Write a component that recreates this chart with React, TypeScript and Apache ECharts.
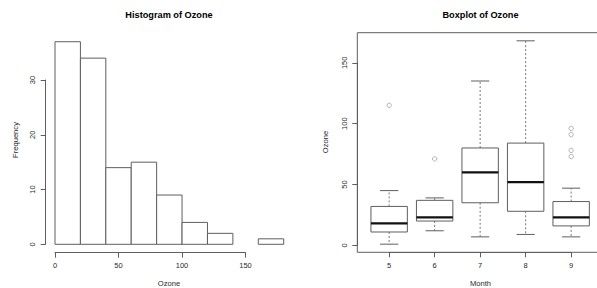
import React, { useEffect, useRef } from "react";
import * as echarts from "echarts";

// Histogram data
const breaks = [0, 20, 40, 60, 80, 100, 120, 140, 160, 180];
const counts = [37, 34, 14, 15, 9, 4, 2, 0, 1];

// Boxplot data (Ozone by Month)
const months = ["5", "6", "7", "8", "9"];
const whiskerLow = [1, 12, 7, 9, 7];
const lowerHinge = [11, 20, 35, 28, 16];
const medians = [18, 23, 60, 52, 23];
const upperHinge = [32, 37, 80, 84, 36];
const whiskerHigh = [45, 39, 135, 168, 47];
const outliers = [[115], [71], [], [], [96, 91, 78, 73]];

const FONT = "'Liberation Sans', Arial, Helvetica, sans-serif";
const LINE = "#5e5e5e";
const TEXT = "#2a2a2a";

export default function App() {
  const ref = useRef<HTMLDivElement>(null);
  useEffect(() => {
    if (!ref.current) return;
    const chart = echarts.init(ref.current, undefined, { renderer: "svg" });

    const histData = counts.map((c, i) => [breaks[i], breaks[i + 1], c]);
    const boxData = months.map((_, i) => [
      i + 1,
      whiskerLow[i],
      lowerHinge[i],
      medians[i],
      upperHinge[i],
      whiskerHigh[i],
    ]);
    const outData: number[][] = [];
    outliers.forEach((arr, i) => arr.forEach((v) => outData.push([i + 1, v])));

    const labelStyle = { fontSize: 7.5, color: TEXT, fontFamily: FONT };
    const lineStyle = { color: LINE, width: 1 };
    const hidden = (grid: number, min: number, max: number, type = "value") => ({
      gridIndex: grid,
      type,
      min,
      max,
      show: false,
    });

    const option: any = {
      animation: false,
      backgroundColor: "#fff",
      grid: [
        { left: 55, top: 25.3, width: 228.7, height: 219, outerBoundsMode: "none", containLabel: false },
        { left: 55, top: 242.7, width: 190.5, height: 10, outerBoundsMode: "none", containLabel: false },
        { left: 45.7, top: 80, width: 10, height: 164.3, outerBoundsMode: "none", containLabel: false },
        {
          left: 357.3, top: 32.7, width: 245.7, height: 219.6,
          show: true, borderColor: LINE, borderWidth: 1, backgroundColor: "transparent",
          outerBoundsMode: "none", containLabel: false,
        },
        { left: 357.3, top: 62.8, width: 10, height: 182.6, outerBoundsMode: "none", containLabel: false },
        { left: 389.15, top: 242, width: 182, height: 10.3, outerBoundsMode: "none", containLabel: false },
      ],
      xAxis: [
        hidden(0, 0, 180),
        {
          gridIndex: 1, type: "value", min: 0, max: 150, interval: 50,
          axisLine: { show: true, lineStyle },
          axisTick: { show: true, length: 5, lineStyle },
          axisLabel: { ...labelStyle, margin: 9 },
          splitLine: { show: false },
        },
        hidden(2, 0, 1),
        hidden(3, 0.3, 5.7),
        hidden(4, 0, 1),
        {
          gridIndex: 5, type: "category", data: months, boundaryGap: false,
          axisLine: { show: true, lineStyle },
          axisTick: { show: true, length: 5, lineStyle },
          axisLabel: { ...labelStyle, margin: 9 },
          splitLine: { show: false },
        },
      ],
      yAxis: [
        hidden(0, 0, 40),
        hidden(1, 0, 1),
        {
          gridIndex: 2, type: "value", min: 0, max: 30, interval: 10,
          axisLine: { show: true, lineStyle },
          axisTick: { show: true, length: 5, lineStyle },
          axisLabel: { ...labelStyle, margin: 9, rotate: 90 },
          splitLine: { show: false },
        },
        hidden(3, -5.68, 174.68),
        {
          gridIndex: 4, type: "value", min: 0, max: 150, interval: 50,
          axisLine: { show: true, lineStyle },
          axisTick: { show: true, length: 5, lineStyle },
          axisLabel: { ...labelStyle, margin: 9, rotate: 90 },
          splitLine: { show: false },
        },
        hidden(5, 0, 1),
      ],
      series: [
        {
          type: "custom",
          xAxisIndex: 0,
          yAxisIndex: 0,
          data: histData,
          encode: { x: [0, 1], y: 2 },
          renderItem: (params: any, api: any) => {
            const c = api.value(2);
            if (!c) return null;
            const tl = api.coord([api.value(0), c]);
            const br = api.coord([api.value(1), 0]);
            return {
              type: "rect",
              shape: { x: tl[0], y: tl[1], width: br[0] - tl[0], height: br[1] - tl[1] },
              style: { fill: "#fff", stroke: LINE, lineWidth: 1 },
            };
          },
        },
        {
          type: "custom",
          xAxisIndex: 3,
          yAxisIndex: 3,
          data: boxData,
          encode: { x: 0, y: [1, 2, 3, 4, 5] },
          renderItem: (params: any, api: any) => {
            const x = api.value(0);
            const lo = api.value(1);
            const q1 = api.value(2);
            const med = api.value(3);
            const q3 = api.value(4);
            const hi = api.value(5);
            const bw = 0.4;
            const cw = 0.2;
            const c = (xx: number, yy: number) => api.coord([xx, yy]);
            const seg = (a: number[], b: number[], style: any) => ({
              type: "line",
              shape: { x1: a[0], y1: a[1], x2: b[0], y2: b[1] },
              style,
            });
            const solid = { stroke: LINE, lineWidth: 1 };
            const dashed = { stroke: "#777", lineWidth: 1, lineDash: [2, 2] };
            const tl = c(x - bw, q3);
            const br = c(x + bw, q1);
            return {
              type: "group",
              children: [
                seg(c(x, q3), c(x, hi), dashed),
                seg(c(x, q1), c(x, lo), dashed),
                seg(c(x - cw, hi), c(x + cw, hi), solid),
                seg(c(x - cw, lo), c(x + cw, lo), solid),
                {
                  type: "rect",
                  shape: { x: tl[0], y: tl[1], width: br[0] - tl[0], height: br[1] - tl[1] },
                  style: { fill: "#fff", stroke: LINE, lineWidth: 1 },
                },
                seg(c(x - bw, med), c(x + bw, med), { stroke: "#111", lineWidth: 2.2 }),
              ],
            };
          },
        },
        {
          type: "scatter",
          xAxisIndex: 3,
          yAxisIndex: 3,
          data: outData,
          symbol: "circle",
          symbolSize: 4.4,
          itemStyle: { color: "#fff", borderColor: "#666", borderWidth: 0.6 },
        },
      ],
      graphic: [
        {
          type: "text", x: 169, y: 15,
          style: { text: "Histogram of Ozone", align: "center", verticalAlign: "middle", fontSize: 9.2, fontWeight: "bold", fontFamily: FONT, fill: "#000" },
        },
        {
          type: "text", x: 480.5, y: 15,
          style: { text: "Boxplot of Ozone", align: "center", verticalAlign: "middle", fontSize: 9.2, fontWeight: "bold", fontFamily: FONT, fill: "#000" },
        },
        {
          type: "text", x: 169, y: 283.5,
          style: { text: "Ozone", align: "center", verticalAlign: "middle", fontSize: 7.6, fontFamily: FONT, fill: TEXT },
        },
        {
          type: "text", x: 480.5, y: 283.5,
          style: { text: "Month", align: "center", verticalAlign: "middle", fontSize: 7.6, fontFamily: FONT, fill: TEXT },
        },
        {
          type: "text", x: 15, y: 140, rotation: Math.PI / 2,
          style: { text: "Frequency", align: "center", verticalAlign: "middle", fontSize: 7.6, fontFamily: FONT, fill: TEXT },
        },
        {
          type: "text", x: 325, y: 142, rotation: Math.PI / 2,
          style: { text: "Ozone", align: "center", verticalAlign: "middle", fontSize: 7.6, fontFamily: FONT, fill: TEXT },
        },
      ],
    };
    chart.setOption(option);
    return () => chart.dispose();
  }, []);
  return (
    <div
      ref={ref}
      style={{ position: "fixed", left: 0, top: 0, width: 597, height: 288, background: "#fff" }}
    />
  );
}
